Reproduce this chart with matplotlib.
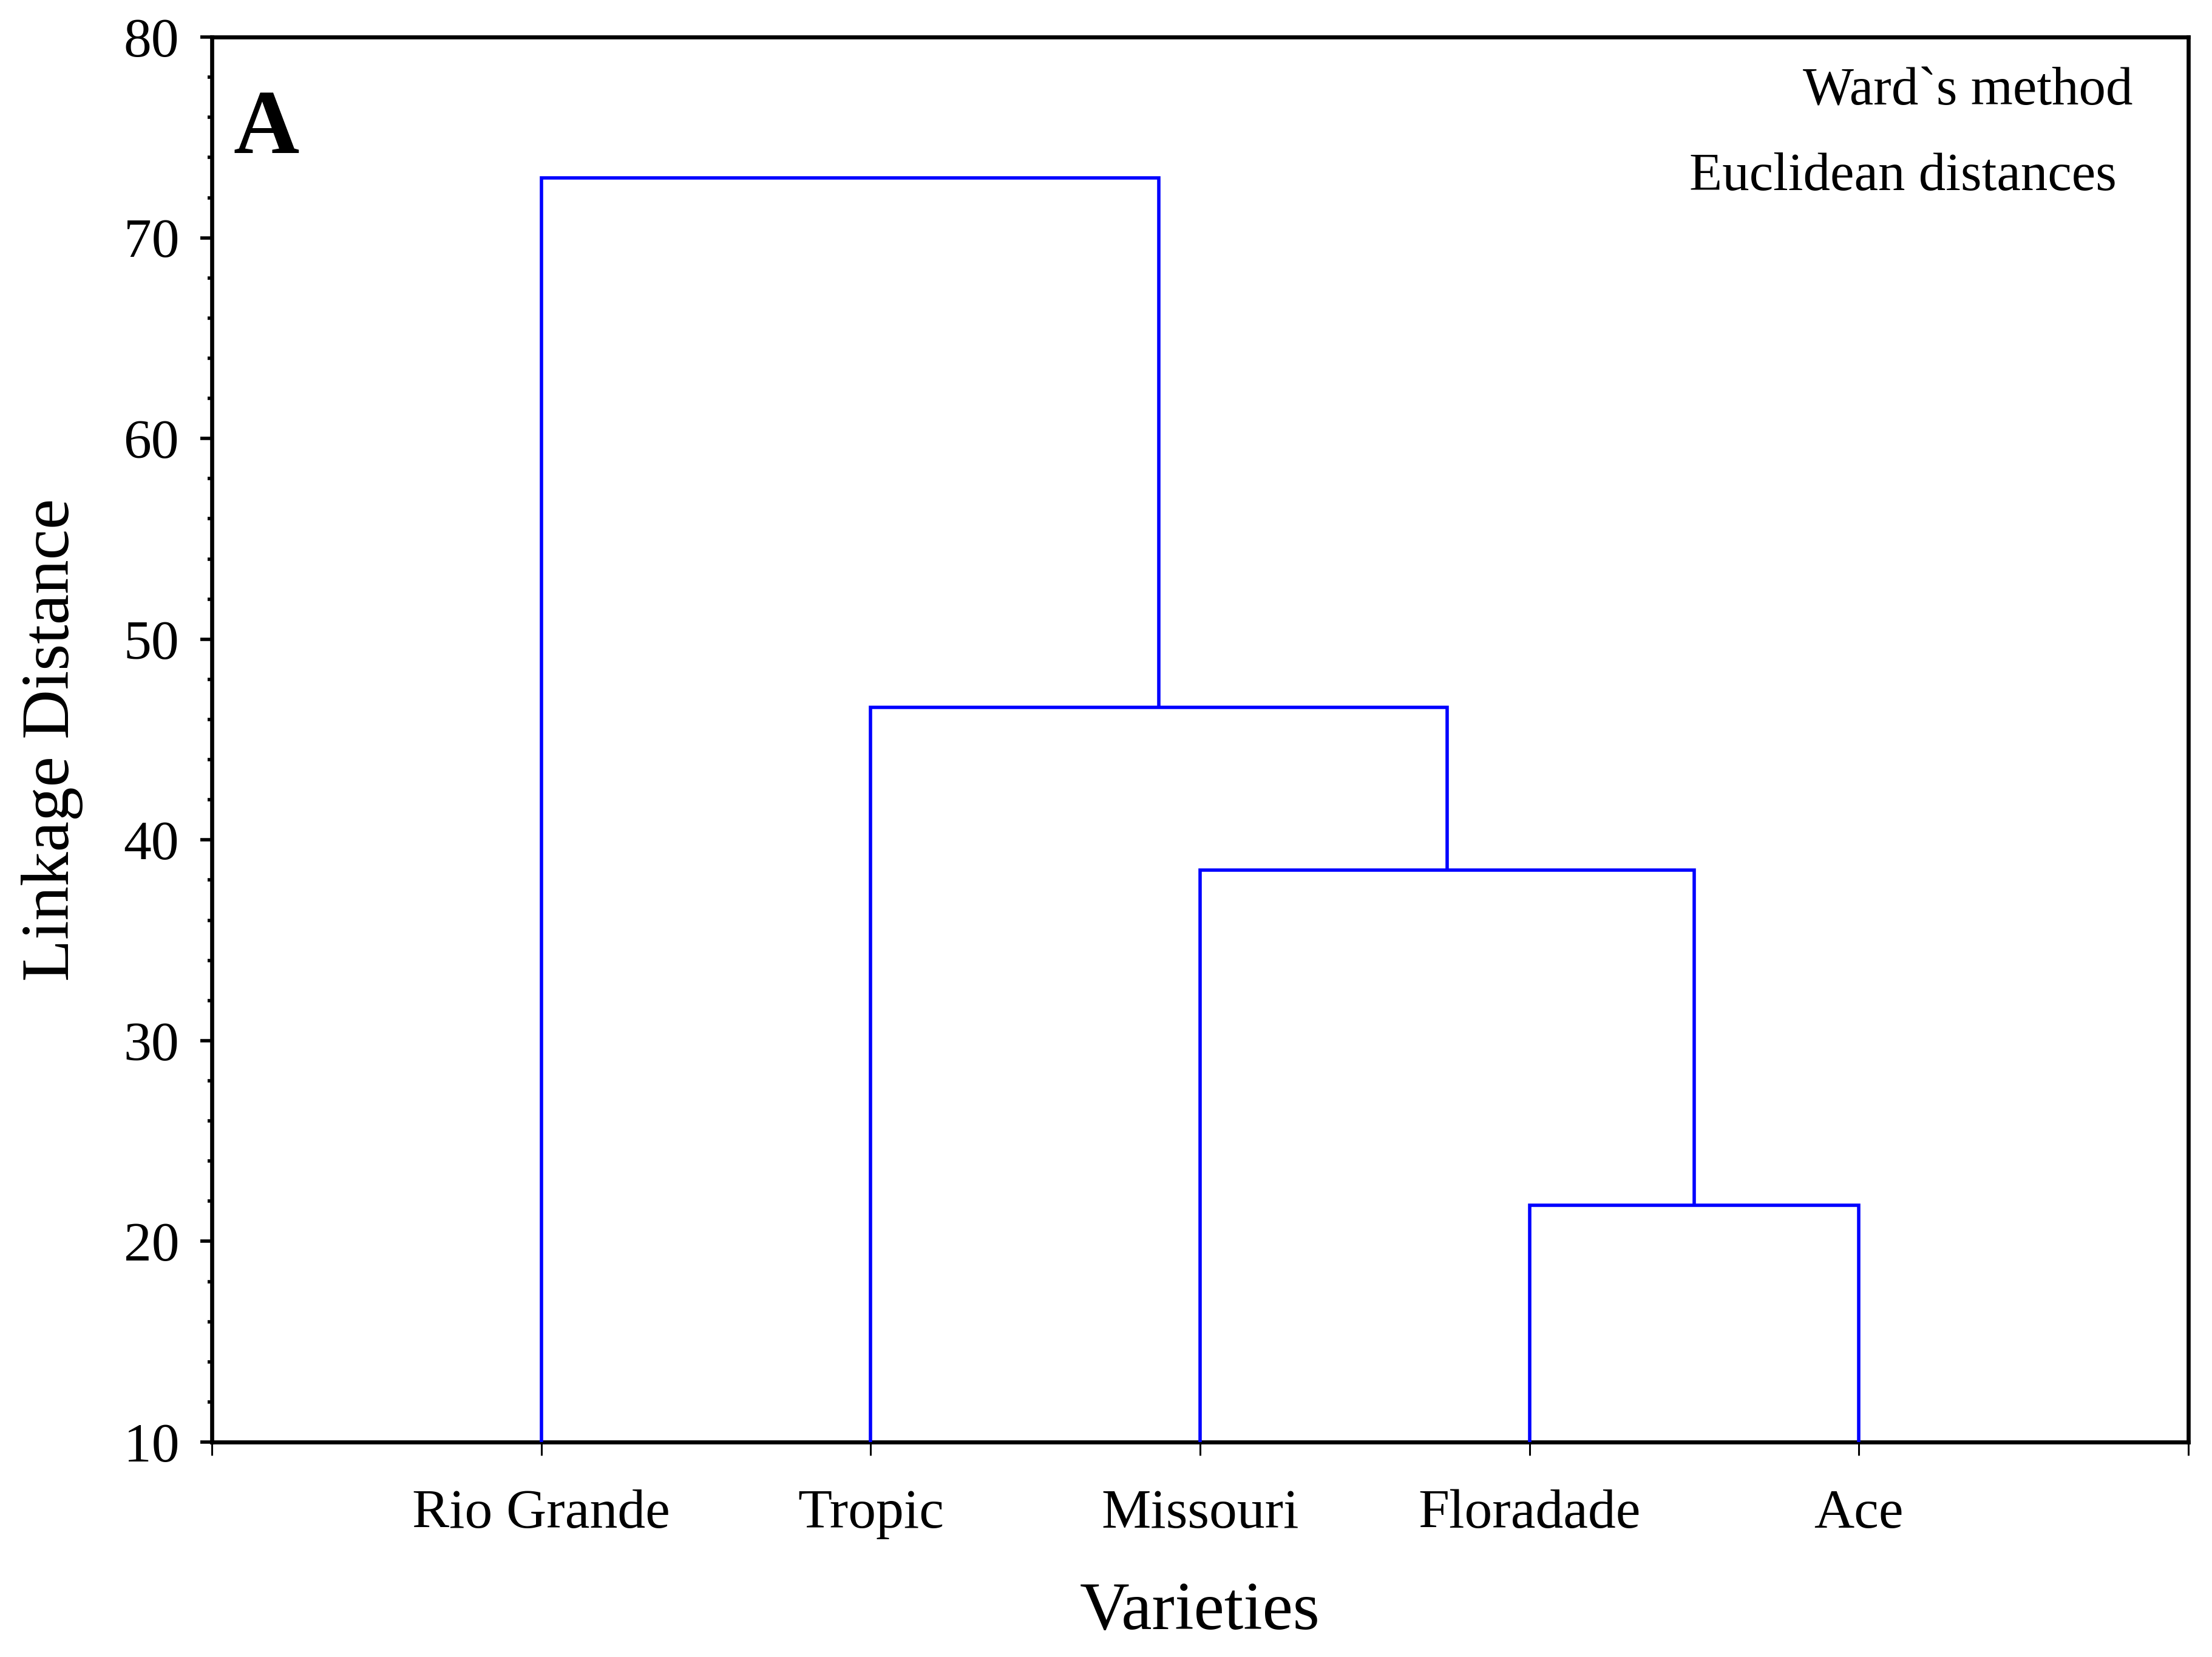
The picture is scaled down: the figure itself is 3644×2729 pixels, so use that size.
import matplotlib
matplotlib.use("Agg")
import matplotlib.pyplot as plt
from matplotlib.ticker import MultipleLocator

plt.rcParams['font.family'] = ['Liberation Serif', 'DejaVu Serif']

# ---- data ----
varieties = ["Rio Grande", "Tropic", "Missouri", "Floradade", "Ace"]
# agglomeration steps (scipy-like): cluster ids 0..4 are leaves, 5.. are merges
merge_left = [3, 2, 1, 0]
merge_right = [4, 5, 6, 7]
merge_height = [21.8, 38.5, 46.6, 73.0]
y_ticks = [10, 20, 30, 40, 50, 60, 70, 80]

fig = plt.figure(figsize=(9.11, 6.8225), dpi=400)
ax = fig.add_axes([0.0958, 0.1297, 0.8935, 0.8479])

ymin, ymax = 10, 80
n = len(varieties)
pos = {i: i + 1 for i in range(n)}
hgt = {i: ymin for i in range(n)}
for k, (a, b, h) in enumerate(zip(merge_left, merge_right, merge_height)):
    xa, xb = pos[a], pos[b]
    ax.plot([xa, xa, xb, xb], [hgt[a], h, h, hgt[b]], color='#0000ff',
            lw=1.0, solid_joinstyle='miter', solid_capstyle='butt', zorder=3)
    pos[n + k] = (xa + xb) / 2
    hgt[n + k] = h

ax.set_xlim(0, n + 1)
ax.set_ylim(ymin, ymax)
ax.set_xticks(range(0, n + 2))
ax.set_xticklabels([''] + varieties + [''], fontsize=16.5)
ax.set_yticks(y_ticks)
ax.set_yticklabels([str(v) for v in y_ticks], fontsize=16.5)
ax.yaxis.set_minor_locator(MultipleLocator(2))

for sp in ax.spines.values():
    sp.set_linewidth(1.2)

ax.tick_params(axis='y', which='major', direction='out', length=3.4, width=1.0, pad=6.3)
ax.tick_params(axis='y', which='minor', direction='out', length=1.3, width=1.0)
ax.tick_params(axis='x', which='major', direction='out', length=4.0, width=0.55, pad=10)

ax.set_xlabel("Varieties", fontsize=20.4, labelpad=12.5)
ax.set_ylabel("Linkage Distance", fontsize=20.4, labelpad=12)

ax.text(0.011, 0.9175, "A", transform=ax.transAxes, fontsize=27,
        fontweight='bold', ha='left', va='baseline')
ax.text(0.972, 0.952, "Ward`s method", transform=ax.transAxes, fontsize=16,
        ha='right', va='baseline')
ax.text(0.9637, 0.891, "Euclidean distances", transform=ax.transAxes, fontsize=16,
        ha='right', va='baseline')

fig.savefig("out.png", dpi=400)
